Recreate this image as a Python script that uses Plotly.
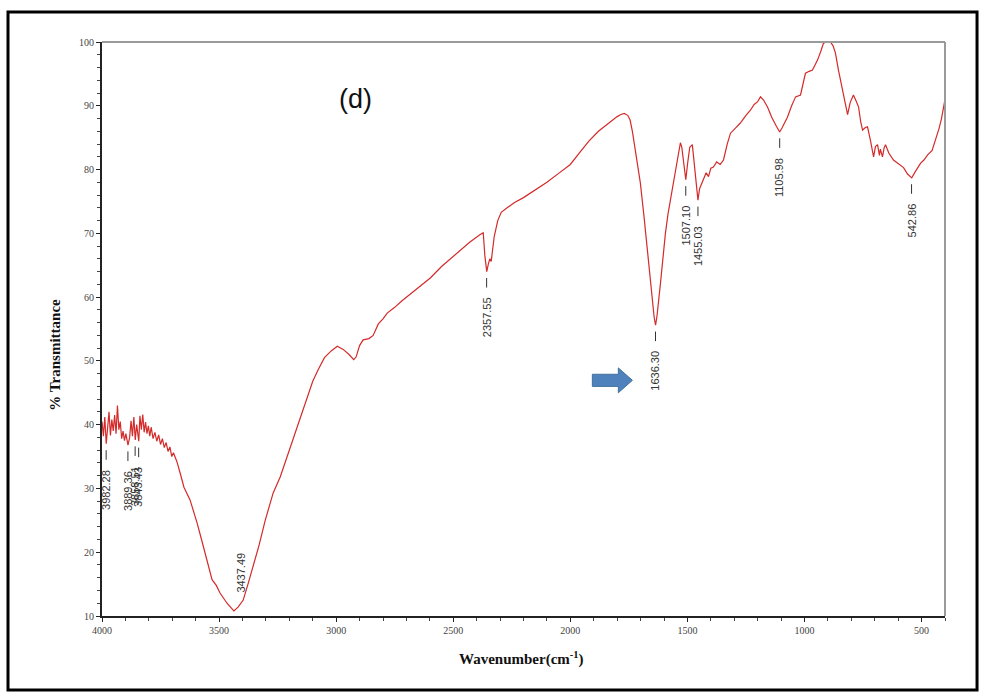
import plotly.graph_objects as go

# ---------------- data ----------------
wavenumber = [
    4000, 3994, 3988, 3982, 3976, 3970, 3964, 3958, 3952, 3946, 3940, 3934, 3928, 3922,
    3916, 3910, 3904, 3898, 3889, 3882, 3876, 3870, 3864, 3858, 3852, 3846, 3843, 3838,
    3832, 3826, 3820, 3814, 3808, 3802, 3796, 3790, 3782, 3774, 3766, 3758, 3750, 3742,
    3734, 3726, 3718, 3710, 3702, 3695, 3680, 3667, 3650, 3624, 3610, 3594, 3575, 3551,
    3530, 3512, 3496, 3466, 3450, 3437, 3419, 3397, 3375, 3355, 3330, 3303, 3269, 3239,
    3200, 3160, 3124, 3100, 3077, 3050, 3020, 2995, 2970, 2945, 2925, 2915, 2900, 2885,
    2860, 2842, 2820, 2800, 2782, 2750, 2720, 2697, 2650, 2598, 2550, 2483, 2430, 2385,
    2372, 2365, 2357, 2350, 2344, 2338, 2325, 2310, 2295, 2270, 2240, 2200, 2150, 2100,
    2050, 2000, 1957, 1920, 1880, 1850, 1820, 1800, 1786, 1770, 1755, 1745, 1735, 1722,
    1710, 1701, 1685, 1671, 1660, 1650, 1642, 1636, 1630, 1615, 1604, 1594, 1583, 1573,
    1562, 1551, 1540, 1530, 1524, 1515, 1507, 1499, 1490, 1479, 1472, 1462, 1455, 1448,
    1440, 1432, 1420, 1410, 1400, 1389, 1375, 1360, 1346, 1330, 1316, 1295, 1274, 1250,
    1231, 1215, 1201, 1188, 1175, 1158, 1140, 1120, 1106, 1095, 1073, 1055, 1038, 1017,
    1005, 996, 980, 966, 955, 944, 930, 919, 905, 889, 878, 868, 855, 838, 826, 816,
    805, 791, 780, 769, 760, 752, 740, 731, 718, 705, 697, 688, 680, 676, 667, 660,
    654, 640, 620, 600, 577, 560, 542, 525, 504, 490, 474, 455, 440, 425, 415, 406, 400,
]
transmittance = [
    40.5, 38.2, 41.2, 37.0, 39.5, 42.0, 38.3, 40.8, 39.0, 41.5, 38.6, 43.0, 39.2, 40.5,
    37.8, 39.0, 37.5, 38.6, 36.8, 38.0, 40.6, 38.2, 41.2, 37.6, 40.0, 38.2, 37.4, 41.4,
    39.2, 41.6, 38.8, 40.4, 38.6, 39.8, 38.2, 39.6, 37.8, 38.8, 37.4, 38.4, 36.9, 37.8,
    36.4, 37.2, 35.8, 36.5, 35.0, 35.6, 34.2, 32.5, 30.2, 28.2, 26.6, 24.6, 22.0, 18.8,
    15.7, 14.8, 13.6, 12.0, 11.4, 10.8, 11.4, 12.5, 15.2, 17.7, 21.0, 25.0, 29.3, 31.8,
    36.0, 40.5, 44.4, 46.8, 48.6, 50.5, 51.6, 52.3, 51.8, 51.0, 50.2, 50.6, 52.4, 53.3,
    53.5, 54.0, 55.8, 56.6, 57.5, 58.4, 59.4, 60.1, 61.5, 63.0, 64.8, 66.9, 68.6, 69.8,
    70.1, 66.5, 64.0, 65.2, 66.0, 65.6, 69.5, 72.0, 73.3, 74.0, 74.8, 75.6, 76.8, 78.0,
    79.4, 80.8, 82.8, 84.5, 86.0, 86.9, 87.8, 88.3, 88.6, 88.8, 88.5, 87.8, 86.0, 83.1,
    80.0, 77.9, 72.5, 67.4, 62.8, 59.6, 56.8, 55.6, 57.0, 62.2, 66.5, 70.0, 73.0, 75.2,
    77.5, 79.5, 82.0, 84.2, 83.5, 80.2, 78.4, 81.0, 83.5, 83.9, 81.5, 77.0, 75.2, 77.0,
    77.8, 78.4, 79.5, 78.9, 80.2, 80.4, 81.2, 80.8, 81.5, 84.0, 85.7, 86.5, 87.3, 88.5,
    89.3, 90.2, 90.6, 91.4, 90.9, 89.8, 88.2, 86.8, 85.9, 86.6, 88.2, 90.0, 91.4, 91.7,
    93.5, 95.1, 95.4, 95.6, 96.4, 97.2, 98.6, 99.8, 100.0, 100.0, 99.4, 98.3, 95.6, 92.5, 90.0, 88.6,
    90.5, 91.7, 90.8, 89.8, 87.5, 86.2, 86.6, 86.7, 84.5, 82.0, 83.6, 83.9, 82.2, 83.2, 82.0, 83.4,
    83.9, 82.6, 81.5, 80.9, 80.3, 79.3, 78.7, 79.8, 81.0, 81.5, 82.3, 83.0, 84.6, 86.5, 88.0, 90.1, 91.0,
]

peak_wn = [3982.28, 3889.36, 3858.51, 3843.43, 2357.55, 1636.30, 1507.10, 1455.03, 1105.98, 542.86]
peak_t = [37.0, 36.8, 37.6, 37.4, 64.0, 55.6, 78.4, 75.2, 85.9, 78.7]
peak_labels = ["3982.28", "3889.36", "3858.51", "3843.43", "2357.55", "1636.30",
               "1507.10", "1455.03", "1105.98", "542.86"]

min_peak_wn = 3437.49
min_peak_t = 10.8
min_peak_label = "3437.49"

x_ticks = [4000, 3500, 3000, 2500, 2000, 1500, 1000, 500]
y_ticks = [10, 20, 30, 40, 50, 60, 70, 80, 90, 100]

# ---------------- figure ----------------
fig = go.Figure()
fig.add_trace(go.Scatter(
    x=wavenumber, y=transmittance, mode="lines",
    line=dict(color="#d42a2a", width=1.2), showlegend=False, hoverinfo="skip",
))

annotations = []
shapes = []
label_font = dict(family="Arial, Liberation Sans, sans-serif", size=11, color="#333333")
for wn, t, lab in zip(peak_wn, peak_t, peak_labels):
    shapes.append(dict(type="line", xref="x", yref="y", x0=wn, x1=wn,
                       y0=t - 1.0, y1=t - 2.5, line=dict(color="#333333", width=1)))
    annotations.append(dict(x=wn, y=t, xref="x", yref="y", text=lab, textangle=-90,
                            showarrow=False, xanchor="center", yanchor="top",
                            yshift=-24, font=label_font))
annotations.append(dict(x=min_peak_wn, y=min_peak_t, xref="x", yref="y", text=min_peak_label,
                        textangle=-90, showarrow=False, xanchor="center", yanchor="bottom",
                        xshift=7, yshift=16, font=label_font))

# panel label
annotations.append(dict(x=0.3013, y=0.9007, xref="paper", yref="paper", text="(d)",
                        showarrow=False, xanchor="center", yanchor="middle",
                        font=dict(family="Liberation Sans, Arial, sans-serif", size=27, color="#111111")))
# axis titles
annotations.append(dict(x=-0.056, y=0.4547, xref="paper", yref="paper", text="<b>% Transmittance</b>",
                        textangle=-90, showarrow=False, xanchor="center", yanchor="middle",
                        font=dict(family="Liberation Serif, Times New Roman, serif", size=15, color="#111111")))
annotations.append(dict(x=0.498, y=-0.0732, xref="paper", yref="paper",
                        text="<b>Wavenumber(cm<sup>-1</sup>)</b>",
                        showarrow=False, xanchor="center", yanchor="middle",
                        font=dict(family="Liberation Serif, Times New Roman, serif", size=15, color="#111111")))

# blue block arrow (data coordinates)
ax0, ax_head, ax_tip = 1906, 1795, 1735
ay_c, ay_shaft, ay_head = 46.95, 0.95, 1.95
arrow_path = (f"M {ax0},{ay_c - ay_shaft} L {ax_head},{ay_c - ay_shaft} L {ax_head},{ay_c - ay_head} "
              f"L {ax_tip},{ay_c} L {ax_head},{ay_c + ay_head} L {ax_head},{ay_c + ay_shaft} "
              f"L {ax0},{ay_c + ay_shaft} Z")
shapes.append(dict(type="path", xref="x", yref="y", path=arrow_path,
                   fillcolor="#4f81bd", line=dict(color="#41719c", width=1)))

# gray top / right frame
shapes.append(dict(type="line", xref="x domain", yref="y domain", x0=0, x1=1, y0=1, y1=1,
                   line=dict(color="#9a9a9a", width=2)))
shapes.append(dict(type="line", xref="x domain", yref="y domain", x0=1, x1=1, y0=0, y1=1,
                   line=dict(color="#9a9a9a", width=2)))
# outer black border
shapes.append(dict(type="rect", xref="paper", yref="paper", x0=-0.1115, x1=1.038,
                   y0=-0.1289, y1=1.0523, line=dict(color="black", width=3)))

tick_font = dict(family="Liberation Serif, Times New Roman, serif", size=10, color="#444444")
fig.update_layout(
    width=985, height=699,
    margin=dict(l=102, r=40, t=42, b=83),
    plot_bgcolor="white", paper_bgcolor="white",
    annotations=annotations, shapes=shapes,
    xaxis=dict(range=[4000, 400], tickvals=x_ticks, showgrid=False, zeroline=False,
               showline=True, linecolor="#222222", linewidth=2,
               ticks="outside", ticklen=4, tickcolor="#222222", tickwidth=1,
               minor=dict(dtick=100, ticks="outside", ticklen=3, tickcolor="#444444"),
               tickfont=tick_font),
    yaxis=dict(range=[10, 100], tickvals=y_ticks, showgrid=False, zeroline=False,
               showline=True, linecolor="#222222", linewidth=2,
               ticks="outside", ticklen=4, tickcolor="#222222", tickwidth=1,
               minor=dict(dtick=2, ticks="outside", ticklen=3, tickcolor="#444444"),
               tickfont=tick_font),
)

fig.write_html("out.html")
